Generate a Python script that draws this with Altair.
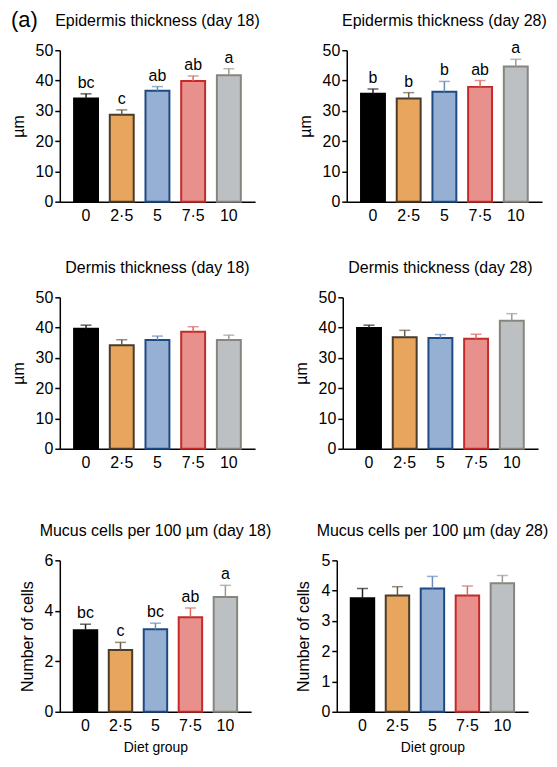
import altair as alt
import pandas as pd

FONT = "Liberation Sans"

groups = ["0", "2·5", "5", "7·5", "10"]
fill_colors = ["#000000", "#E8A55E", "#96B0D4", "#E8908B", "#BDC0C3"]
stroke_colors = ["#000000", "#4A3B2A", "#1E4A84", "#C52A2A", "#86867E"]
err_colors = ["#222222", "#6B5A45", "#6A8CBA", "#D66A66", "#9A9A94"]

epi18_mean = [34.1, 28.7, 36.6, 39.8, 41.7]
epi18_upper = [35.6, 30.3, 38.0, 41.5, 43.9]
epi18_letters = ["bc", "c", "ab", "ab", "a"]

epi28_mean = [35.6, 34.1, 36.3, 37.9, 44.6]
epi28_upper = [37.2, 36.0, 39.7, 40.0, 47.0]
epi28_letters = ["b", "b", "b", "ab", "a"]

der18_mean = [39.6, 34.2, 35.9, 38.6, 35.9]
der18_upper = [40.8, 36.0, 37.2, 40.3, 37.5]

der28_mean = [39.9, 36.8, 36.6, 36.3, 42.3]
der28_upper = [40.8, 39.1, 37.7, 37.8, 44.6]

muc18_mean = [3.23, 2.45, 3.27, 3.75, 4.55]
muc18_upper = [3.47, 2.75, 3.51, 4.11, 5.01]
muc18_letters = ["bc", "c", "bc", "ab", "a"]

muc28_mean = [3.75, 3.84, 4.07, 3.84, 4.24]
muc28_upper = [4.07, 4.13, 4.47, 4.15, 4.50]

thick_ticks = [0, 10, 20, 30, 40, 50]
muc18_ticks = [0, 2, 4, 6]
muc28_ticks = [0, 1, 2, 3, 4, 5]

H = 152


def panel(title, mean, upper, letters, yticks, ytitle, w=196, xtitle=None,
          tag=None, anchor=None):
    df = pd.DataFrame({
        "group": groups,
        "mean": mean,
        "upper": upper,
        "letter": letters if letters else [""] * len(groups),
        "fillc": fill_colors,
        "strokec": stroke_colors,
        "errc": err_colors,
    })
    xaxis = alt.Axis(title=xtitle, labelAngle=0, ticks=False, labelPadding=6,
                     titlePadding=7, titleFontSize=14) if xtitle else \
        alt.Axis(title=None, labelAngle=0, ticks=False, labelPadding=6)
    xscale = alt.Scale(paddingInner=0.33, paddingOuter=0.4)
    yscale = alt.Scale(domain=[yticks[0], yticks[-1]], nice=False)
    yaxis = alt.Axis(title=ytitle, values=yticks, tickSize=5, titlePadding=9,
                     labelOverlap=False)

    def X():
        return alt.X("group:N", sort=groups, scale=xscale, axis=xaxis)

    def Y(field):
        return alt.Y(field, scale=yscale, axis=yaxis)

    base = alt.Chart(df)
    bars = base.mark_bar(strokeWidth=2).encode(
        x=X(),
        y=Y("mean:Q"),
        fill=alt.Fill("fillc:N", scale=None),
        stroke=alt.Stroke("strokec:N", scale=None),
    )
    rule = base.mark_rule(strokeWidth=1.5).encode(
        x=X(),
        y=Y("mean:Q"),
        y2="upper:Q",
        stroke=alt.Stroke("errc:N", scale=None),
    )
    cap = base.mark_tick(size=11, thickness=1.5, orient="horizontal").encode(
        x=X(),
        y=Y("upper:Q"),
        color=alt.Color("errc:N", scale=None),
    )
    layers = [bars, rule, cap]
    if letters:
        txt = base.mark_text(baseline="bottom", dy=-3, fontSize=16, font=FONT,
                             color="black").encode(
            x=X(),
            y=Y("upper:Q"),
            text="letter:N",
        )
        layers.append(txt)
    ttl = alt.Chart(pd.DataFrame({"t": [title]})).mark_text(
        align="center", baseline="alphabetic", fontSize=16, font=FONT,
        color="black").encode(text="t:N", x=alt.value(w / 2), y=alt.value(-24))
    layers.append(ttl)
    if tag:
        t = alt.Chart(pd.DataFrame({"t": [tag]})).mark_text(
            align="left", baseline="alphabetic", fontSize=22, font=FONT,
            color="black").encode(
            text="t:N", x=alt.value(-49), y=alt.value(-23))
        layers.append(t)
    if anchor is not None:
        a = alt.Chart(pd.DataFrame({"t": ["."]})).mark_text(
            align="left", baseline="middle", fontSize=4, opacity=0,
            color="white").encode(text="t:N", x=alt.value(anchor),
                                  y=alt.value(H / 2))
        layers.append(a)
    return alt.layer(*layers).properties(width=w, height=H)


p1 = panel("Epidermis thickness (day 18)", epi18_mean, epi18_upper, epi18_letters,
           thick_ticks, "µm", tag="(a)")
p2 = panel("Epidermis thickness (day 28)", epi28_mean, epi28_upper, epi28_letters,
           thick_ticks, "µm")
p3 = panel("Dermis thickness (day 18)", der18_mean, der18_upper, None,
           thick_ticks, "µm", anchor=-49)
p4 = panel("Dermis thickness (day 28)", der28_mean, der28_upper, None,
           thick_ticks, "µm")
p5 = panel("Mucus cells per 100 µm (day 18)", muc18_mean, muc18_upper, muc18_letters,
           muc18_ticks, "Number of cells", w=192, xtitle="Diet group", anchor=-52)
p6 = panel("Mucus cells per 100 µm (day 28)", muc28_mean, muc28_upper, None,
           muc28_ticks, "Number of cells", w=192, xtitle="Diet group")

row1 = alt.hconcat(p1, p2, spacing=37)
row2 = alt.hconcat(p3, p4, spacing=38)
row3 = alt.hconcat(p5, p6, spacing=24)

chart = alt.vconcat(alt.vconcat(row1, row2, spacing=37), row3, spacing=53).properties(
    padding=0
).configure_view(stroke=None).configure_axis(
    grid=False,
    domainColor="black",
    domainWidth=1.5,
    tickColor="black",
    tickWidth=1.5,
    labelColor="black",
    titleColor="black",
    labelFont=FONT,
    titleFont=FONT,
    labelFontSize=16,
    titleFontSize=16,
    titleFontWeight="normal",
)

chart.save("out.html", embed_options={"renderer": "svg", "actions": False})
